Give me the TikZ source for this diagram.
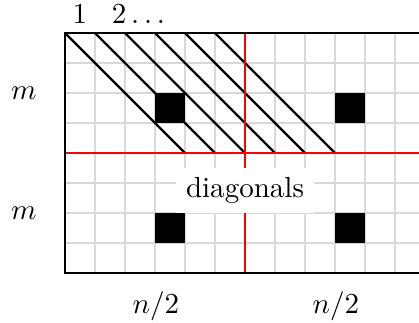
\documentclass[tikz,border=0pt]{standalone}
\usepackage{tikz}
\definecolor{GridGray}{gray}{0.85}
\tikzset{
  cell/.style={fill=black},
  split/.style={red, line width=0.6pt},
  diag/.style={black, line width=0.8pt},
}
\begin{document}
\begin{tikzpicture}[x=0.363cm,y=0.363cm]
\path[use as bounding box] (-2.167,-1.667) rectangle (11.8,9.1);
\draw[GridGray, line width=0.4pt, step=1] (0,0) grid (12,8);
\foreach \i in {0,...,5} \draw[diag] (\i,8) -- (\i+4,4);
\fill[cell] (3,5) rectangle (4,6);
\fill[cell] (9,5) rectangle (10,6);
\fill[cell] (3,1) rectangle (4,2);
\fill[cell] (9,1) rectangle (10,2);
\draw[split] (6,0) -- (6,8);
\draw[split] (0,4) -- (12,4);
\draw[line width=0.7pt] (12,8) -- (0,8) -- (0,0) -- (12,0);
\node[fill=white] (diaglabel) at (6,2.75) {diagonals};
\node[anchor=base] (one) at (0.5,8.33) {$1$};
\node[anchor=base west] (two) at (1.22,8.33) {$2\ldots$};
\node (mtop) at (-1.37,6) {$m$};
\node (mbot) at (-1.37,2) {$m$};
\node (nleft) at (3.03,-1.1) {$n/2$};
\node (nright) at (9.03,-1.1) {$n/2$};
\end{tikzpicture}
\end{document}
